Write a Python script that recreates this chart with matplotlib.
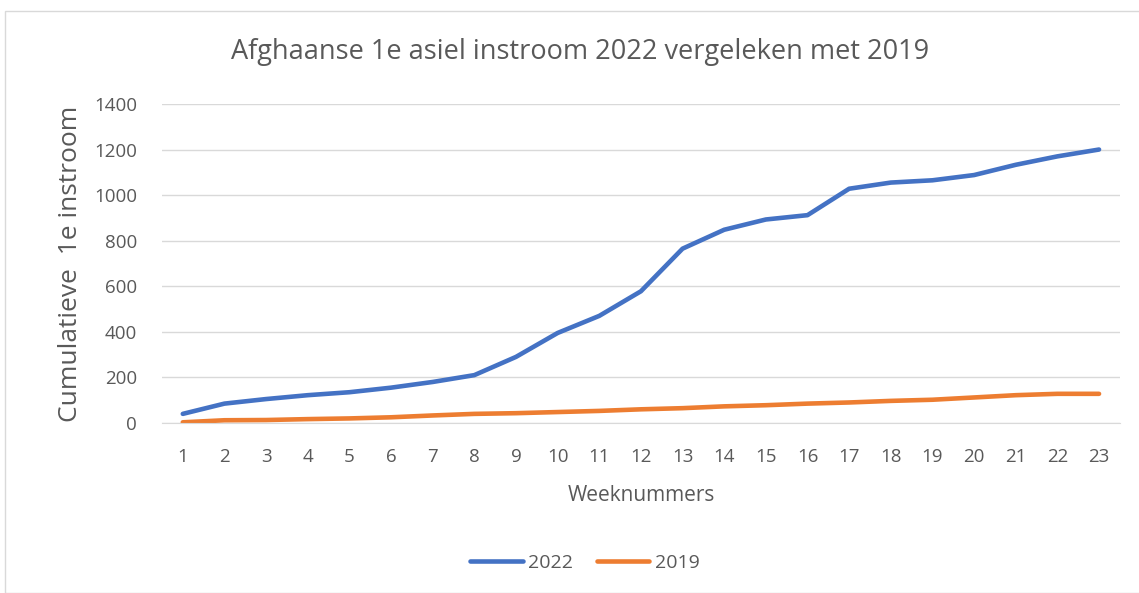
import matplotlib.pyplot as plt
from matplotlib.patches import Rectangle

# data
weken = list(range(1, 24))
instroom_2022 = [40, 85, 105, 122, 135, 155, 180, 210, 290, 395, 470, 578, 765, 848,
                 893, 912, 1028, 1055, 1065, 1088, 1133, 1170, 1200]
instroom_2019 = [3, 12, 13, 17, 20, 25, 33, 40, 43, 48, 53, 60, 65, 73,
                 78, 85, 90, 97, 102, 112, 122, 128, 128]

plt.rcParams['font.family'] = ['Open Sans', 'DejaVu Sans']
grijs = '#595959'

fig = plt.figure(figsize=(11.39, 5.93), dpi=100)
ax = fig.add_axes([0.1422, 0.2867, 0.841, 0.538])

# rand om de grafiek
fig.patches.append(Rectangle((5 / 1139, 0), 1.2, 1 - 11 / 593, transform=fig.transFigure,
                             fill=False, edgecolor='#d9d9d9', linewidth=1))

ax.plot(weken, instroom_2022, color='#4472C4', linewidth=3.3, label='2022',
        solid_capstyle='round', solid_joinstyle='round')
ax.plot(weken, instroom_2019, color='#ED7D31', linewidth=3.3, label='2019',
        solid_capstyle='round', solid_joinstyle='round')

ax.set_xlim(0.5, 23.5)
ax.set_ylim(0, 1400)
ax.set_yticks(range(0, 1401, 200))
ax.set_xticks(weken)
ax.grid(axis='y', color='#d9d9d9', linewidth=1)
ax.set_axisbelow(True)
for s in ['top', 'right', 'left']:
    ax.spines[s].set_visible(False)
ax.spines['bottom'].set_color('#d9d9d9')
ax.tick_params(length=0, labelsize=13.5, colors=grijs)
ax.tick_params(axis='x', pad=18)
ax.tick_params(axis='y', pad=18)

fig.text(580 / 1139, 1 - 52 / 593, 'Afghaanse 1e asiel instroom 2022 vergeleken met 2019',
         fontsize=19.5, color=grijs, ha='center', va='center')
ax.set_xlabel('Weeknummers', fontsize=15, color=grijs, labelpad=14)
ax.set_ylabel('Cumulatieve  1e instroom', fontsize=19, color=grijs, labelpad=8)

ax.legend(loc='center', ncol=2, frameon=False, fontsize=14, labelcolor=grijs,
          handlelength=2.7, handletextpad=0.3, columnspacing=1.2)
ax.get_legend().set_bbox_to_anchor((585 / 1139, 1 - 563 / 593), transform=fig.transFigure)

fig.savefig('out.png', dpi=100)
